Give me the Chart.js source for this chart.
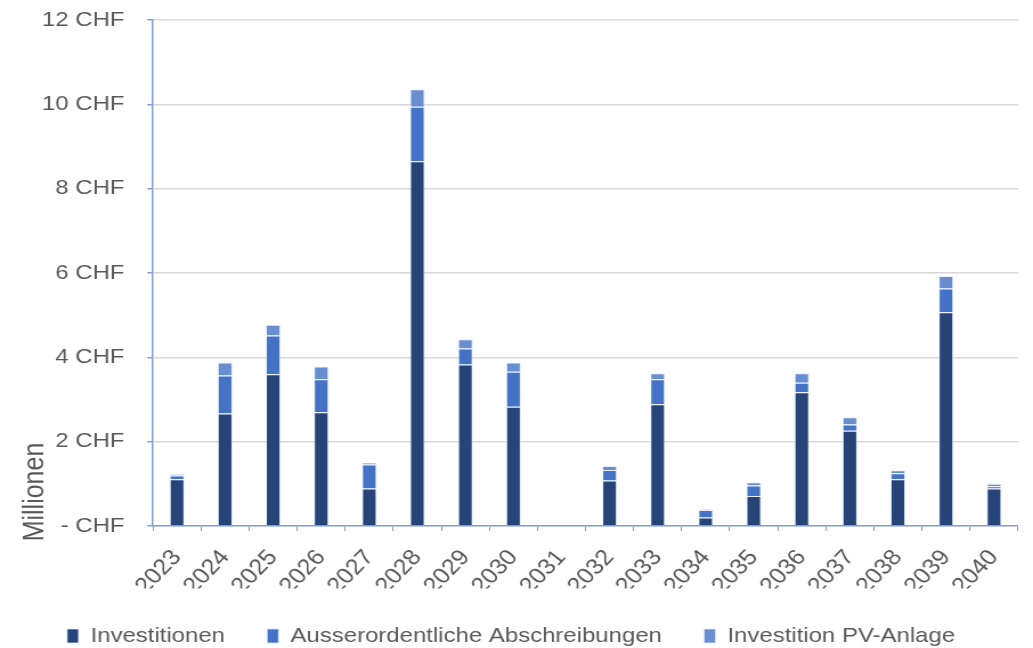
<!DOCTYPE html>
<html lang="de">
<head>
<meta charset="utf-8">
<title>Investitionen 2023–2040</title>
<script src="https://cdn.jsdelivr.net/npm/chart.js@4.4.1/dist/chart.umd.min.js"></script>
<style>
  html, body { margin: 0; padding: 0; background: #ffffff; overflow: hidden; }
  /* The chart is laid out on a narrower canvas and widened to the page width,
     which gives the slightly wide lettering of the original export. */
  #wrap {
    position: absolute; left: 0; top: 0;
    width: 906px; height: 648px;
    transform: scaleX(1.1402);
    transform-origin: 0 0;
  }
</style>
</head>
<body>
<div id="wrap"><canvas id="chart"></canvas></div>
<script>
// Years on the x axis
const years = ['2023', '2024', '2025', '2026', '2027', '2028', '2029', '2030', '2031',
               '2032', '2033', '2034', '2035', '2036', '2037', '2038', '2039', '2040'];

// Values in millions of CHF
const investitionen = [1.11, 2.67, 3.60, 2.70, 0.89, 8.65, 3.83, 2.83, 0,
                       1.08, 2.89, 0.20, 0.71, 3.17, 2.26, 1.11, 5.07, 0.89];
const abschreibungen = [0.09, 0.90, 0.92, 0.78, 0.57, 1.29, 0.38, 0.83, 0,
                        0.25, 0.59, 0.18, 0.25, 0.23, 0.15, 0.14, 0.56, 0.05];
const pvAnlage = [0.03, 0.31, 0.25, 0.30, 0.04, 0.42, 0.22, 0.22, 0,
                  0.09, 0.14, 0.01, 0.08, 0.22, 0.17, 0.07, 0.30, 0.06];

// Y axis range and tick step (millions)
const yMax = 12;
const yStep = 2;

const seriesNames = ['Investitionen', 'Ausserordentliche Abschreibungen', 'Investition PV-Anlage'];
const axisTitle = 'Millionen';

const colors = ['#264478', '#4472C4', '#698ED0'];
const axisColor = '#7C9DD9';
const gridColor = '#D9D9D9';
const textColor = '#595959';
const fontFamily = '"Liberation Sans", Arial, sans-serif';

function chfLabel(v) {
  return v === 0 ? '- CHF' : v + ' CHF';
}

// Rotated axis title, placed next to the bottom of the value axis
const axisTitlePlugin = {
  id: 'axisTitle',
  afterDraw(chart) {
    const ctx = chart.ctx;
    ctx.save();
    ctx.translate(30.7, 492);
    ctx.rotate(-Math.PI / 2);
    ctx.font = '25px ' + fontFamily;
    ctx.fillStyle = textColor;
    ctx.textAlign = 'center';
    ctx.textBaseline = 'middle';
    ctx.fillText(axisTitle, 0, 0);
    ctx.restore();
  }
};

const datasets = [investitionen, abschreibungen, pvAnlage].map((values, i) => ({
  label: seriesNames[i],
  data: values,
  backgroundColor: colors[i],
  borderColor: 'rgba(225, 233, 247, 0.75)',
  borderWidth: 1,
  borderSkipped: 'start',
  categoryPercentage: 1.0,
  barPercentage: 0.31,
  stack: 'total'
}));

new Chart(document.getElementById('chart'), {
  type: 'bar',
  data: { labels: years, datasets },
  plugins: [axisTitlePlugin],
  options: {
    responsive: true,
    maintainAspectRatio: false,
    animation: false,
    devicePixelRatio: 1,
    layout: { padding: { top: 20, right: 9.5, bottom: -8.5, left: 0 } },
    plugins: {
      tooltip: { enabled: false },
      legend: {
        position: 'bottom',
        labels: {
          boxWidth: 10,
          boxHeight: 14,
          padding: 37,
          color: textColor,
          font: { family: fontFamily, size: 21 }
        }
      }
    },
    scales: {
      x: {
        stacked: true,
        offset: true,
        grid: {
          offset: true,
          drawOnChartArea: false,
          drawTicks: true,
          tickLength: 5,
          tickColor: axisColor
        },
        border: { display: true, color: axisColor, width: 1.5 },
        ticks: {
          minRotation: 49,
          maxRotation: 49,
          padding: 14,
          color: textColor,
          font: { family: fontFamily, size: 22 }
        },
        afterFit(scale) { scale.height = 62.5; }
      },
      y: {
        stacked: true,
        min: 0,
        max: yMax,
        grid: {
          color: c => (c.tick && c.tick.value === 0 ? 'rgba(0,0,0,0)' : gridColor),
          lineWidth: 1.5,
          drawTicks: true,
          tickLength: 5,
          tickColor: axisColor
        },
        border: { display: true, color: axisColor, width: 1.5 },
        ticks: {
          stepSize: yStep,
          padding: 20,
          color: textColor,
          font: { family: fontFamily, size: 21 },
          callback: v => chfLabel(v)
        },
        afterFit(scale) {
          scale.width = 134.2;
          scale.paddingTop = 0;
          scale.paddingBottom = 0;
        }
      }
    }
  }
});
</script>
</body>
</html>
